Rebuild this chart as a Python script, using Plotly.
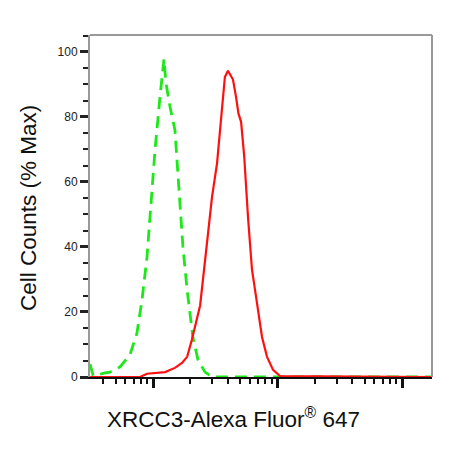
import plotly.graph_objects as go

# Control (isotype) histogram - green dashed
ctrl_x = [3.12, 3.3, 3.58, 4.04, 4.52, 5.43, 6.53, 7.43, 8.16, 8.95, 9.46, 10.38, 11.38, 12.25,
          12.7, 13.7, 15.0, 15.6, 16.5, 17.4, 18.8, 19.8, 20.9, 23.0, 26.2, 29.8, 100, 1742]
ctrl_y = [4.0, 0.5, 0.6, 1.2, 1.5, 3.1, 6.8, 13.5, 23.7, 36.9, 49.2, 69.8, 86.2, 97.8,
          90.5, 83.1, 76.0, 66.8, 54.5, 40.0, 26.8, 19.7, 12.3, 5.2, 1.5, 0.0, 0.0, 0.0]

# XRCC3 stained histogram - red solid
xrcc_x = [3.12, 7.87, 8.95, 12.5, 15.0, 17.1, 18.8, 20.5, 23.9, 27.2, 29.8, 32.7, 35.8, 37.8,
          40.0, 43.9, 46.5, 48.6, 51.0, 54.0, 58.0, 62.4, 68.4, 75.1, 82.4, 92.1, 104.8, 1742]
xrcc_y = [0.0, 0.0, 1.0, 1.5, 2.8, 4.3, 6.2, 11.4, 22.0, 42.2, 55.4, 65.8, 83.1, 92.3,
          94.2, 91.5, 86.0, 81.0, 78.5, 68.0, 49.0, 33.0, 22.8, 12.3, 6.2, 2.2, 0.3, 0.0]

y_ticks = [0, 20, 40, 60, 80, 100]
x_title = "XRCC3-Alexa Fluor<sup>®</sup> 647"
y_title = "Cell Counts (% Max)"

fig = go.Figure()
fig.add_trace(go.Scatter(x=ctrl_x, y=ctrl_y, mode="lines",
                         line=dict(color="#1ee81a", width=2.8, dash="12px,7px"),
                         showlegend=False))
fig.add_trace(go.Scatter(x=xrcc_x, y=xrcc_y, mode="lines",
                         line=dict(color="#ff1010", width=2.2),
                         showlegend=False))

fig.update_layout(
    width=441, height=443,
    margin=dict(l=82, r=17, t=27, b=74),
    paper_bgcolor="white", plot_bgcolor="white",
    font=dict(family="Liberation Sans, Arial", color="#111"),
    xaxis=dict(type="log", range=[0.494, 3.241], showgrid=False, zeroline=False,
               showticklabels=False, ticks="outside", dtick=1, ticklen=9, tickwidth=3,
               tickcolor="#111", showline=True, linecolor="#111", linewidth=2,
               minor=dict(ticks="outside", dtick="D1", ticklen=5, tickwidth=1.5,
                          tickcolor="#111", showgrid=False)),
    yaxis=dict(range=[0, 105.2], showgrid=False, zeroline=False,
               tickvals=y_ticks, ticks="outside", ticklen=8, tickwidth=2.5,
               tickcolor="#222", showline=True, linecolor="#999", linewidth=2,
               tickfont=dict(size=12, color="#222"),
               minor=dict(ticks="outside", dtick=5, ticklen=5, tickwidth=1.5,
                          tickcolor="#222", showgrid=False)),
    shapes=[dict(type="line", xref="paper", yref="paper", x0=0, x1=1, y0=1, y1=1,
                 line=dict(color="#999", width=2)),
            dict(type="line", xref="paper", yref="paper", x0=1, x1=1, y0=0, y1=1,
                 line=dict(color="#999", width=2))],
    annotations=[
        dict(text=x_title, xref="paper", yref="paper", x=(233 - 90) / 342, y=-41 / 342,
             xanchor="center", yanchor="middle", showarrow=False,
             font=dict(size=22.5, color="#111")),
        dict(text=y_title, xref="paper", yref="paper", x=(29 - 90) / 342, y=(377 - 208) / 342,
             xanchor="center", yanchor="middle", showarrow=False, textangle=-90,
             font=dict(size=22.5, color="#111")),
    ],
)

fig.write_html("out.html")
